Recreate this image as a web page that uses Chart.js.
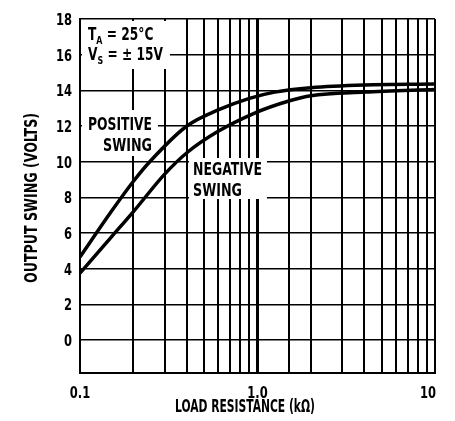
<!DOCTYPE html>
<html>
<head>
<meta charset="utf-8">
<script src="https://cdn.jsdelivr.net/npm/chart.js@4/dist/chart.umd.min.js"></script>
<style>
  body { margin: 0; background: #fff; }
  canvas { display: block; }
</style>
</head>
<body>
<canvas id="myChart" width="455" height="421"></canvas>
<script>
// values
const positiveRes = [0.1, 0.15, 0.2, 0.25, 0.4, 0.6, 0.9, 1.25, 2, 4, 10];
const positiveSwing = [4.65, 7.2, 8.9, 10.05, 12.0, 12.9, 13.55, 13.9, 14.15, 14.3, 14.35];
const negativeRes = [0.1, 0.15, 0.2, 0.3, 0.4, 0.6, 0.95, 1.5, 2, 4, 10];
const negativeSwing = [3.75, 5.77, 7.2, 9.3, 10.5, 11.7, 12.7, 13.4, 13.7, 13.9, 14.05];
const xTickLabels = { 0.1: "0.1", 1: "1.0", 10: "10" };
const yTickValues = [0, 2, 4, 6, 8, 10, 12, 14, 16, 18];

const FONT = "'DejaVu Sans Condensed', 'DejaVu Sans', sans-serif";

function toPoints(xs, ys) {
  return xs.map((x, i) => ({ x: x, y: ys[i] }));
}

// bold text squeezed horizontally; sx < 0 means "fit to width -sx"
function squeezed(ctx, text, x, y, size, align, sx) {
  ctx.save();
  ctx.font = "bold " + size + "px " + FONT;
  const natural = ctx.measureText(text).width;
  if (sx < 0) sx = -sx / natural;
  const w = natural * sx;
  let left = x;
  if (align === "center") left = x - w / 2;
  if (align === "right") left = x - w;
  ctx.translate(left, y);
  ctx.scale(sx, 1);
  ctx.textAlign = "left";
  ctx.textBaseline = "alphabetic";
  ctx.fillText(text, 0, 0);
  ctx.restore();
  return w;
}

const SX = 0.8;

const labelsPlugin = {
  id: "labels",
  beforeDatasetsDraw(chart) {
    const ctx = chart.ctx;
    ctx.save();
    ctx.fillStyle = "#fff";
    ctx.fillRect(82, 21, 88, 48);
    ctx.fillRect(82, 110, 76, 46);
    ctx.fillRect(189, 158, 78, 41);
    ctx.restore();
  },
  afterDraw(chart) {
    const ctx = chart.ctx;
    const xs = chart.scales.x;
    const ys = chart.scales.y;
    ctx.save();
    ctx.fillStyle = "#000";

    // tick labels
    yTickValues.forEach((v) => {
      squeezed(ctx, String(v), 72, ys.getPixelForValue(v) + 6, 16, "right", SX);
    });
    Object.keys(xTickLabels).forEach((k) => {
      let px = xs.getPixelForValue(Number(k));
      if (Number(k) === 10) px -= 7;
      squeezed(ctx, xTickLabels[k], px, 398, 16, "center", SX);
    });

    // T_A = 25°C
    let x = 88;
    x += squeezed(ctx, "T", x, 40, 17, "left", SX);
    x += squeezed(ctx, "A", x, 44, 11, "left", SX);
    squeezed(ctx, " = 25°C", x, 40, 17, "left", SX);

    // V_S = ± 15V
    x = 88;
    x += squeezed(ctx, "V", x, 60, 17, "left", SX);
    x += squeezed(ctx, "S", x, 64, 11, "left", SX);
    squeezed(ctx, " = ± 15V", x, 60, 17, "left", SX);

    squeezed(ctx, "POSITIVE", 152, 130, 17, "right", -64);
    squeezed(ctx, "SWING", 152, 151, 17, "right", -49);
    squeezed(ctx, "NEGATIVE", 193, 175, 17, "left", -69);
    squeezed(ctx, "SWING", 193, 196, 17, "left", -49);

    // axis titles
    squeezed(ctx, "LOAD RESISTANCE (kΩ)", 245, 412, 17, "center", -140);

    ctx.translate(37, 198);
    ctx.rotate(-Math.PI / 2);
    squeezed(ctx, "OUTPUT SWING (VOLTS)", 0, 0, 17, "center", -170);
    ctx.restore();
  }
};

new Chart(document.getElementById("myChart").getContext("2d"), {
  type: "line",
  data: {
    datasets: [
      {
        label: "Positive Swing",
        data: toPoints(positiveRes, positiveSwing),
        borderColor: "#000",
        borderWidth: 3.5,
        pointRadius: 0,
        cubicInterpolationMode: "monotone",
        fill: false
      },
      {
        label: "Negative Swing",
        data: toPoints(negativeRes, negativeSwing),
        borderColor: "#000",
        borderWidth: 3.5,
        pointRadius: 0,
        cubicInterpolationMode: "monotone",
        fill: false
      }
    ]
  },
  options: {
    responsive: false,
    devicePixelRatio: 1,
    animation: false,
    layout: { padding: { left: 0, right: 20, top: 19, bottom: 0 } },
    plugins: {
      legend: { display: false },
      tooltip: { enabled: false }
    },
    scales: {
      x: {
        type: "logarithmic",
        min: 0.1,
        max: 10,
        afterFit(scale) { scale.height = 48; },
        grid: {
          color: "#000",
          lineWidth: (c) => (c.tick && c.tick.value === 1 ? 3 : 2),
          drawTicks: false
        },
        border: { display: true, color: "#000", width: 2 },
        ticks: { display: false, autoSkip: false }
      },
      y: {
        min: -1.85,
        max: 18,
        afterFit(scale) { scale.width = 80; },
        afterBuildTicks(scale) {
          scale.ticks = yTickValues.map((v) => ({ value: v }));
        },
        grid: { color: "#000", lineWidth: 1.5, drawTicks: false },
        border: { display: true, color: "#000", width: 2 },
        ticks: { display: false }
      }
    }
  },
  plugins: [labelsPlugin]
});
</script>
</body>
</html>
